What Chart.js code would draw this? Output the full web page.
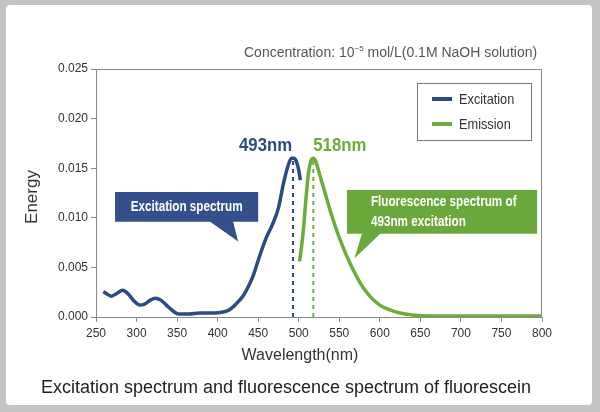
<!DOCTYPE html>
<html>
<head>
<meta charset="utf-8">
<script src="https://cdn.jsdelivr.net/npm/chart.js@4.4.1/dist/chart.umd.min.js"></script>
<style>
  body { margin: 0; background: #c4c4c4; }
  #panel { position: absolute; left: 6px; top: 5px; width: 586px; height: 400px; background: #fff; border-radius: 4px; }
  #myChart { position: absolute; left: 0; top: 0; }
</style>
</head>
<body>
<div id="panel"></div>
<canvas id="myChart" width="600" height="412"></canvas>
<script>
// Spectrum data (wavelength in nm, energy)
const excitationNm = [259, 264, 269, 276, 283, 290, 297, 304, 310, 317, 323, 330, 338, 345, 352, 365, 378, 395, 407, 414, 420, 426, 432, 438, 444, 452, 460, 468, 475, 481, 487, 491, 494, 497, 500, 502];
const excitationEnergy = [0.00255, 0.0023, 0.0021, 0.0024, 0.0027, 0.0023, 0.0016, 0.0012, 0.0013, 0.0017, 0.0019, 0.0017, 0.0011, 0.0006, 0.0003, 0.0003, 0.0004, 0.0004, 0.0005, 0.0007, 0.0011, 0.0016, 0.0022, 0.0031, 0.0042, 0.0062, 0.0080, 0.0094, 0.0110, 0.0134, 0.0153, 0.0160, 0.0160, 0.0157, 0.0148, 0.0138];

const emissionNm = [501, 503, 506, 509, 512, 515, 518, 521, 525, 530, 535, 540, 550, 560, 570, 580, 590, 600, 610, 625, 640, 660, 700, 750, 800];
const emissionEnergy = [0.0056, 0.0068, 0.0090, 0.0120, 0.0145, 0.0157, 0.0160, 0.0157, 0.0146, 0.0132, 0.0118, 0.0104, 0.0080, 0.0060, 0.0043, 0.0029, 0.0019, 0.0012, 0.0008, 0.0004, 0.0002, 0.0001, 0.0001, 0.0001, 0.0001];

const seriesNames = ['Excitation', 'Emission'];
const peakNm = [493, 518];
const peakEnergy = [0.016, 0.016];
const peakLabels = ['493nm', '518nm'];

const xMin = 250, xMax = 800, xStep = 50;
const yMin = 0, yMax = 0.025, yStep = 0.005;

const NAVY = '#2d4a82';
const GREEN = '#6cab3c';
const SANS = "'Liberation Sans', Arial, sans-serif";

// Callout boxes placed in data units (nm, energy)
const callouts = [
    { lines: ['Excitation spectrum'], color: '#34508a', box: [273.5, 450, 0.0126, 0.0096], tail: [390.7, 419.1], tip: [425.3, 0.0076], align: 'center' },
    { lines: ['Fluorescence spectrum of', '493nm excitation'], color: '#6aa83c', box: [559.5, 794, 0.0128, 0.0084], tail: [578, 600.6], tip: [568.5, 0.0059], align: 'left', textX: 589 }
];

function toPoints(xs, ys) {
    return xs.map((x, i) => ({ x: x, y: ys[i] }));
}

// condensed text: squeeze a normal font horizontally
function narrowText(ctx, text, x, y, sx) {
    ctx.save();
    ctx.translate(x, y);
    ctx.scale(sx, 1);
    ctx.fillText(text, 0, 0);
    ctx.restore();
}

// Extra drawing: frame, peak labels, callouts, legend and page texts
const decorations = {
    id: 'decorations',
    afterDatasetsDraw(chart) {
        const ctx = chart.ctx;
        const a = chart.chartArea;
        const xs = chart.scales.x, ys = chart.scales.y;

        ctx.save();
        ctx.strokeStyle = '#8a8a8a';
        ctx.lineWidth = 1;
        ctx.strokeRect(a.left + 0.5, a.top + 0.5, a.right - a.left - 1, a.bottom - a.top);

        // peak labels
        ctx.font = 'bold 19px ' + SANS;
        ctx.textBaseline = 'alphabetic';
        const labelColors = [NAVY, GREEN];
        peakNm.forEach((nm, i) => {
            const px = xs.getPixelForValue(nm);
            const py = ys.getPixelForValue(peakEnergy[i]) - 7;
            ctx.fillStyle = labelColors[i];
            ctx.textAlign = i === 0 ? 'right' : 'left';
            narrowText(ctx, peakLabels[i], i === 0 ? px - 1 : px, py, 0.88);
        });

        // callouts
        callouts.forEach(c => {
            const x0 = xs.getPixelForValue(c.box[0]), x1 = xs.getPixelForValue(c.box[1]);
            const y0 = ys.getPixelForValue(c.box[2]), y1 = ys.getPixelForValue(c.box[3]);
            const ta = xs.getPixelForValue(c.tail[0]), tb = xs.getPixelForValue(c.tail[1]);
            const tx = xs.getPixelForValue(c.tip[0]), ty = ys.getPixelForValue(c.tip[1]);
            ctx.beginPath();
            ctx.moveTo(x0, y0);
            ctx.lineTo(x1, y0);
            ctx.lineTo(x1, y1);
            ctx.lineTo(tb, y1);
            ctx.lineTo(tx, ty);
            ctx.lineTo(ta, y1);
            ctx.lineTo(x0, y1);
            ctx.closePath();
            ctx.fillStyle = c.color;
            ctx.fill();

            ctx.fillStyle = '#fff';
            ctx.font = 'bold 15px ' + SANS;
            ctx.textBaseline = 'middle';
            const lh = 19.5;
            const cy = (y0 + y1) / 2 - (c.lines.length - 1) * lh / 2;
            c.lines.forEach((t, k) => {
                if (c.align === 'center') {
                    ctx.textAlign = 'center';
                    narrowText(ctx, t, (x0 + x1) / 2, cy + k * lh, 0.78);
                } else {
                    ctx.textAlign = 'left';
                    narrowText(ctx, t, xs.getPixelForValue(c.textX), cy + k * lh, 0.78);
                }
            });
        });

        // legend box inside the plot
        const lw = 114, lhgt = 57;
        const lx = a.right - 11 - lw, ly = a.top + 14;
        ctx.fillStyle = '#fff';
        ctx.fillRect(lx, ly, lw, lhgt);
        ctx.strokeStyle = '#777';
        ctx.lineWidth = 1;
        ctx.strokeRect(lx + 0.5, ly + 0.5, lw, lhgt);
        ctx.font = '15px ' + SANS;
        ctx.textAlign = 'left';
        ctx.textBaseline = 'middle';
        chart.data.datasets.slice(0, 2).forEach((ds, i) => {
            const yy = ly + 16 + i * 25;
            ctx.strokeStyle = ds.borderColor;
            ctx.lineWidth = 4;
            ctx.beginPath();
            ctx.moveTo(lx + 15, yy);
            ctx.lineTo(lx + 35, yy);
            ctx.stroke();
            ctx.fillStyle = '#333';
            narrowText(ctx, ds.label, lx + 42, yy + 1, 0.85);
        });
        ctx.restore();
    },
    afterDraw(chart) {
        const ctx = chart.ctx;
        ctx.save();
        ctx.fillStyle = '#555';
        ctx.textBaseline = 'alphabetic';
        ctx.textAlign = 'left';
        let x = 244;
        const parts = [['Concentration: 10', 14, 57], ['\u22125', 8, 51], [' mol/L(0.1M NaOH solution)', 14, 57]];
        parts.forEach(p => {
            ctx.font = p[1] + 'px ' + SANS;
            ctx.fillText(p[0], x, p[2]);
            x += ctx.measureText(p[0]).width;
        });

        ctx.fillStyle = '#333';
        ctx.textAlign = 'center';
        ctx.font = '16px ' + SANS;
        ctx.fillText('Wavelength(nm)', 300, 360);

        ctx.fillStyle = '#222';
        ctx.font = '18px ' + SANS;
        ctx.fillText('Excitation spectrum and fluorescence spectrum of fluorescein', 286, 393);

        ctx.translate(32, 197);
        ctx.rotate(-Math.PI / 2);
        ctx.fillStyle = '#333';
        ctx.font = '17px ' + SANS;
        ctx.textBaseline = 'middle';
        ctx.fillText('Energy', 0, 0);
        ctx.restore();
    }
};

const ctx = document.getElementById('myChart').getContext('2d');

const myChart = new Chart(ctx, {
    type: 'line',
    data: {
        datasets: [
            { label: seriesNames[0], data: toPoints(excitationNm, excitationEnergy), borderColor: NAVY, borderWidth: 3.5, pointRadius: 0, cubicInterpolationMode: 'monotone', fill: false },
            { label: seriesNames[1], data: toPoints(emissionNm, emissionEnergy), borderColor: GREEN, borderWidth: 3.5, pointRadius: 0, cubicInterpolationMode: 'monotone', fill: false },
            { label: 'peak1', data: [{ x: peakNm[0], y: 0 }, { x: peakNm[0], y: peakEnergy[0] }], borderColor: NAVY, borderWidth: 2, borderDash: [4, 4], pointRadius: 0 },
            { label: 'peak2', data: [{ x: peakNm[1], y: 0 }, { x: peakNm[1], y: peakEnergy[1] }], borderColor: GREEN, borderWidth: 2, borderDash: [4, 4], pointRadius: 0 }
        ]
    },
    options: {
        responsive: false,
        animation: false,
        layout: { padding: { left: 0, top: 69, right: 58, bottom: 70 } },
        plugins: { legend: { display: false }, tooltip: { enabled: false } },
        scales: {
            x: {
                type: 'linear', min: xMin, max: xMax,
                afterFit(s) { s.height = 25; },
                ticks: { stepSize: xStep, color: '#333', font: { size: 12, family: SANS }, padding: 4 },
                grid: { drawOnChartArea: false, drawTicks: true, tickLength: 5, color: '#8a8a8a' },
                border: { color: '#8a8a8a' }
            },
            y: {
                min: yMin, max: yMax,
                afterFit(s) { s.width = 96; },
                ticks: { stepSize: yStep, color: '#333', font: { size: 12, family: SANS }, padding: 3, callback: v => v.toFixed(3) },
                grid: { drawOnChartArea: false, drawTicks: true, tickLength: 5, color: '#8a8a8a' },
                border: { color: '#8a8a8a' }
            }
        }
    },
    plugins: [decorations]
});
</script>
</body>
</html>
